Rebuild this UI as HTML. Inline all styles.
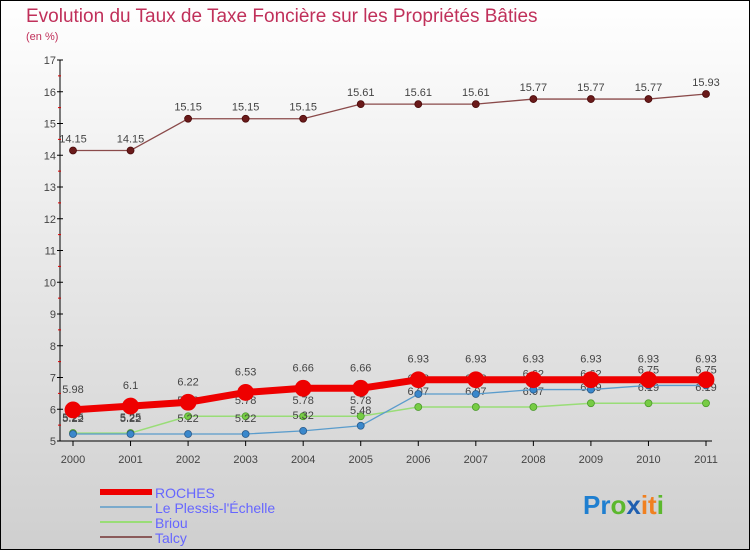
<!DOCTYPE html>
<html><head><meta charset="utf-8"><style>
body{margin:0;width:750px;height:550px;overflow:hidden;font-family:"Liberation Sans",sans-serif}
svg{display:block}
</style></head><body>
<svg id="chart" width="750" height="550">
<defs><linearGradient id="bg" x1="0" y1="0" x2="0" y2="1"><stop offset="0" stop-color="#ffffff"/><stop offset="1" stop-color="#cfcfcf"/></linearGradient></defs>
<rect x="0.5" y="0.5" width="749" height="549" fill="url(#bg)" stroke="#000"/>
<text x="26" y="22" font-size="19" fill="#c0305a">Evolution du Taux de Taxe Foncière sur les Propriétés Bâties</text>
<text x="26" y="40" font-size="11" fill="#c0305a">(en %)</text>
<g id="axes"></g><g id="series"></g><g id="legend"></g>
<g font-size="26" font-weight="bold">
<text x="583" y="514"><tspan fill="#1f7fd0">Pr</tspan><tspan fill="#5cb82e">o</tspan><tspan fill="#1f5fb0">x</tspan><tspan fill="#f08020">it</tspan><tspan fill="#5cb82e">i</tspan></text>
</g>
</svg>
<script>
const years=[2000,2001,2002,2003,2004,2005,2006,2007,2008,2009,2010,2011];
const roches=[5.98,6.1,6.22,6.53,6.66,6.66,6.93,6.93,6.93,6.93,6.93,6.93];
const plessis=[5.22,5.22,5.22,5.22,5.32,5.48,6.48,6.48,6.62,6.62,6.75,6.75];
const briou=[5.25,5.25,5.78,5.78,5.78,5.78,6.07,6.07,6.07,6.19,6.19,6.19];
const talcy=[14.15,14.15,15.15,15.15,15.15,15.61,15.61,15.61,15.77,15.77,15.77,15.93];
const yTicks=[5,6,7,8,9,10,11,12,13,14,15,16,17];
const NS="http://www.w3.org/2000/svg";
const x=i=>73+i*(706-73)/(years.length-1);
const y=v=>441-(v-5)*(441-60)/12;
function mk(tag,attrs,parent){const e=document.createElementNS(NS,tag);for(const k in attrs)e.setAttribute(k,attrs[k]);parent.appendChild(e);return e;}
const axes=document.getElementById('axes');
let yl=mk('line',{x1:60,y1:60,x2:60,y2:441,stroke:'#000'},axes);


let xl=mk('line',{x1:60,y1:441,x2:712,y2:441,stroke:'#000'},axes);


yTicks.forEach(t=>{
  mk('line',{x1:57,y1:y(t),x2:63,y2:y(t),stroke:'#000'},axes);
  if(t<17)mk('line',{x1:58,y1:y(t+0.5),x2:61,y2:y(t+0.5),stroke:'#d00'},axes);
  const tx=mk('text',{x:56,y:y(t)+4,'font-size':11,fill:'#444','text-anchor':'end'},axes);
  tx.textContent=t;
  
  
});
years.forEach((yr,i)=>{
  mk('line',{x1:x(i),y1:441,x2:x(i),y2:446,stroke:'#000'},axes);
  const tx=mk('text',{x:x(i),y:463,'font-size':11,fill:'#444','text-anchor':'middle'},axes);
  tx.textContent=yr;
  
  
});
const ser=document.getElementById('series');
function draw(data,name,line,w,dot,r,dotStroke,labelDy){
  const g=mk('g',{},ser);
  
  
  mk('polyline',{points:data.map((v,i)=>x(i)+','+y(v)).join(' '),fill:'none',stroke:line,'stroke-width':w,'stroke-linejoin':'round'},g);
  data.forEach((v,i)=>{
    const c=mk('circle',{cx:x(i),cy:y(v),r:r,fill:dot,stroke:dotStroke,'stroke-width':0.8},g);
    
    
    const t=mk('text',{x:x(i),y:y(v)+labelDy,'font-size':11,fill:'#444','text-anchor':'middle'},g);
    t.textContent=v;
    
    
  });
}
draw(talcy,'talcy','#8a4a4a',1.3,'#6a1a1a',3.5,'#4a0a0a',-8);
draw(briou,'briou','#99dd77',1.5,'#77cc44',3.5,'#4a9a2a',-12);
draw(plessis,'plessis','#5a9ccc',1.3,'#3a88cc',3.5,'#2a5a8a',-12);
draw(roches,'roches','#ee0000',7,'#ee0000',8,'#ee0000',-17);
const lg=document.getElementById('legend');
const items=[['ROCHES','#ee0000',6],['Le Plessis-l\'Échelle','#7aaacc',2],['Briou','#99dd77',2],['Talcy','#8a5a5a',2]];
items.forEach((it,k)=>{
  const g=mk('g',{},lg);
  
  
  const yy=492+k*15;
  mk('line',{x1:100,y1:yy,x2:152,y2:yy,stroke:it[1],'stroke-width':it[2]},g);
  const t=mk('text',{x:155,y:yy+6,'font-size':14,fill:'#6666ff'},g);
  t.textContent=it[0];
});
</script>
</body></html>
